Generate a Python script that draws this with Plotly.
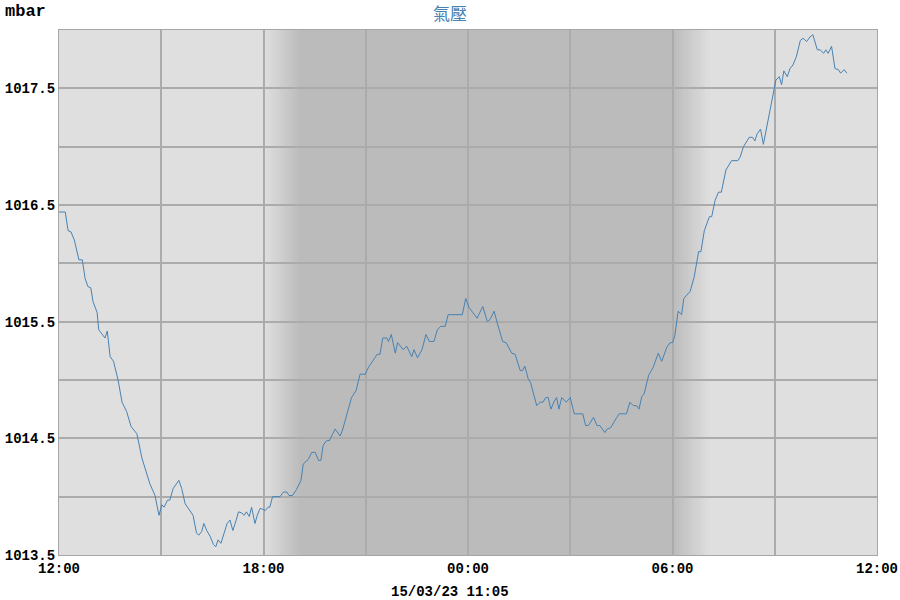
import plotly.graph_objects as go
import pandas as pd

# Minutes after 14/03/23 12:00
minutes = [0, 11, 16, 21, 27, 35, 41, 46, 51, 56, 60, 63, 67, 70, 75, 81, 85, 90, 96, 104,
           111, 119, 127, 137, 146, 160, 169, 176, 181, 185, 191, 195, 201, 211, 216, 222, 236, 242, 246, 251,
           255, 260, 266, 272, 276, 280, 285, 291, 296, 301, 306, 312, 316, 322, 326, 330, 335, 339, 345, 349,
           354, 360, 363, 368, 371, 376, 389, 395, 401, 405, 411, 418, 426, 430, 439, 445, 451, 457, 461, 465,
           471, 476, 486, 495, 499, 507, 515, 523, 530, 539, 545, 556, 560, 565, 570, 577, 580, 585, 592, 596,
           606, 612, 621, 625, 631, 639, 646, 652, 660, 666, 672, 680, 685, 710, 716, 722, 736, 746, 754, 759,
           766, 772, 781, 787, 797, 803, 812, 816, 820, 826, 830, 841, 847, 852, 857, 861, 866, 872, 876, 880,
           885, 893, 900, 907, 922, 927, 932, 941, 947, 952, 961, 965, 971, 982, 986, 999, 1005, 1011, 1017, 1021,
           1026, 1030, 1038, 1046, 1055, 1061, 1070, 1076, 1080, 1084, 1090, 1096, 1100, 1111, 1118, 1126, 1130, 1136, 1145, 1149,
           1155, 1161, 1166, 1174, 1184, 1195, 1199, 1205, 1215, 1221, 1225, 1229, 1235, 1240, 1246, 1252, 1258, 1262, 1268, 1272,
           1276, 1282, 1287, 1292, 1298, 1305, 1310, 1316, 1322, 1327, 1335, 1340, 1346, 1350, 1354, 1360, 1366, 1372, 1376, 1382,
           1387]
pressure = [1016.44, 1016.44, 1016.28, 1016.27, 1016.20, 1016.03, 1016.03, 1015.87, 1015.80, 1015.79, 1015.67, 1015.63, 1015.58, 1015.43, 1015.40, 1015.36, 1015.42, 1015.20, 1015.16, 1015.00,
            1014.81, 1014.73, 1014.60, 1014.54, 1014.33, 1014.11, 1014.01, 1013.84, 1013.93, 1013.91, 1013.97, 1013.97, 1014.07, 1014.14, 1014.07, 1013.94, 1013.84, 1013.69, 1013.67, 1013.70,
            1013.77, 1013.71, 1013.66, 1013.59, 1013.57, 1013.63, 1013.60, 1013.70, 1013.77, 1013.80, 1013.71, 1013.80, 1013.87, 1013.86, 1013.84, 1013.87, 1013.83, 1013.91, 1013.77, 1013.84,
            1013.90, 1013.89, 1013.88, 1013.91, 1013.91, 1014.00, 1014.00, 1014.04, 1014.04, 1014.01, 1014.01, 1014.06, 1014.14, 1014.28, 1014.32, 1014.38, 1014.38, 1014.31, 1014.31, 1014.44,
            1014.48, 1014.48, 1014.58, 1014.52, 1014.57, 1014.71, 1014.85, 1014.91, 1015.05, 1015.05, 1015.11, 1015.19, 1015.22, 1015.22, 1015.36, 1015.36, 1015.33, 1015.39, 1015.23, 1015.32,
            1015.26, 1015.29, 1015.20, 1015.26, 1015.19, 1015.26, 1015.39, 1015.33, 1015.33, 1015.43, 1015.46, 1015.46, 1015.56, 1015.56, 1015.70, 1015.62, 1015.53, 1015.63, 1015.50, 1015.52,
            1015.59, 1015.48, 1015.33, 1015.32, 1015.23, 1015.22, 1015.08, 1015.08, 1015.12, 1015.01, 1014.98, 1014.78, 1014.81, 1014.81, 1014.85, 1014.85, 1014.75, 1014.82, 1014.85, 1014.75,
            1014.85, 1014.81, 1014.85, 1014.71, 1014.71, 1014.61, 1014.61, 1014.68, 1014.61, 1014.61, 1014.55, 1014.58, 1014.59, 1014.68, 1014.71, 1014.71, 1014.81, 1014.78, 1014.78, 1014.75,
            1014.86, 1014.88, 1015.04, 1015.11, 1015.23, 1015.16, 1015.28, 1015.32, 1015.32, 1015.38, 1015.59, 1015.56, 1015.70, 1015.76, 1015.88, 1016.10, 1016.10, 1016.28, 1016.40, 1016.40,
            1016.54, 1016.61, 1016.61, 1016.80, 1016.88, 1016.88, 1016.91, 1017.00, 1017.08, 1017.08, 1017.05, 1017.11, 1017.15, 1017.02, 1017.17, 1017.31, 1017.47, 1017.57, 1017.60, 1017.53,
            1017.65, 1017.60, 1017.67, 1017.70, 1017.77, 1017.91, 1017.93, 1017.90, 1017.94, 1017.96, 1017.83, 1017.83, 1017.80, 1017.83, 1017.80, 1017.86, 1017.67, 1017.66, 1017.63, 1017.66,
            1017.63]

start = pd.Timestamp("2023-03-14 12:00")
end = pd.Timestamp("2023-03-15 12:00")
times = [start + pd.Timedelta(minutes=m) for m in minutes]

x_tickvals = [start + pd.Timedelta(hours=h) for h in range(0, 25, 3)]
x_ticktext = ["12:00", "", "18:00", "", "00:00", "", "06:00", "", "12:00"]
y_tickvals = [1013.5, 1014.0, 1014.5, 1015.0, 1015.5, 1016.0, 1016.5, 1017.0, 1017.5, 1018.0]
y_ticktext = ["1013.5", "", "1014.5", "", "1015.5", "", "1016.5", "", "1017.5", ""]

title_text = "氣壓"
unit_text = "mbar"
stamp_text = "15/03/23 11:05"

LIGHT = (223, 223, 223)
DARK = (187, 187, 187)

fig = go.Figure()
fig.add_trace(go.Scatter(x=times, y=pressure, mode="lines",
                         line=dict(color="#4682b4", width=1), hoverinfo="skip", showlegend=False))

# night shading with soft edges
dusk = start + pd.Timedelta(hours=6)
dawn = start + pd.Timedelta(hours=18)
fade = pd.Timedelta(minutes=65)
shade_end = dawn + fade
steps = 40


def mix(a, b, t):
    return "rgb({},{},{})".format(*[round(a[i] + (b[i] - a[i]) * t) for i in range(3)])


shapes = []
for k in range(steps + 1):
    t = k / steps
    shapes.append(dict(type="rect", xref="x", yref="paper", x0=dusk + fade * t, x1=shade_end,
                       y0=0, y1=1, fillcolor=mix(LIGHT, DARK, t), line=dict(width=0), layer="below"))
for k in range(steps + 1):
    t = k / steps
    shapes.append(dict(type="rect", xref="x", yref="paper", x0=dawn + fade * t, x1=shade_end,
                       y0=0, y1=1, fillcolor=mix(DARK, LIGHT, t), line=dict(width=0), layer="below"))

mono = "Liberation Mono"
L, R, T, B = 59, 23, 30, 45
W, H = 900, 600
pw, ph = W - L - R, H - T - B

fig.update_layout(
    width=W, height=H,
    margin=dict(l=L, r=R, t=T, b=B, autoexpand=False),
    paper_bgcolor="white",
    plot_bgcolor="rgb(223,223,223)",
    shapes=shapes,
    showlegend=False,
    xaxis=dict(type="date", range=[start, end], tickvals=x_tickvals, ticktext=x_ticktext,
               showgrid=True, gridcolor="#ababab", gridwidth=2, zeroline=False, automargin=False,
               showline=True, linecolor="#a6a6a6", linewidth=1, mirror=True, ticks="",
               tickfont=dict(family=mono, size=14, color="black", weight="bold")),
    yaxis=dict(range=[1013.5, 1018.0], tickvals=y_tickvals, ticktext=y_ticktext,
               showgrid=True, gridcolor="#ababab", gridwidth=2, zeroline=False, automargin=False,
               showline=True, linecolor="#a6a6a6", linewidth=1, mirror=True, ticks="",
               tickfont=dict(family=mono, size=14, color="black", weight="bold")),
    annotations=[
        dict(text=title_text, xref="paper", yref="paper", x=(450 - L) / pw, y=1 + (T - 12) / ph,
             xanchor="center", yanchor="middle", showarrow=False,
             font=dict(family="Noto Sans CJK TC", size=17, color="#4682b4")),
        dict(text=unit_text, xref="paper", yref="paper", x=(3 - L) / pw, y=1 + (T - 11) / ph,
             xanchor="left", yanchor="middle", showarrow=False,
             font=dict(family=mono, size=17, color="black", weight="bold")),
        dict(text=stamp_text, xref="paper", yref="paper", x=(450 - L) / pw, y=-(592 - (H - B)) / ph,
             xanchor="center", yanchor="middle", showarrow=False,
             font=dict(family=mono, size=14, color="black", weight="bold")),
    ],
)

fig.write_html("out.html", config={"displayModeBar": False, "staticPlot": True},
               post_script="document.body.style.margin='0px';")
